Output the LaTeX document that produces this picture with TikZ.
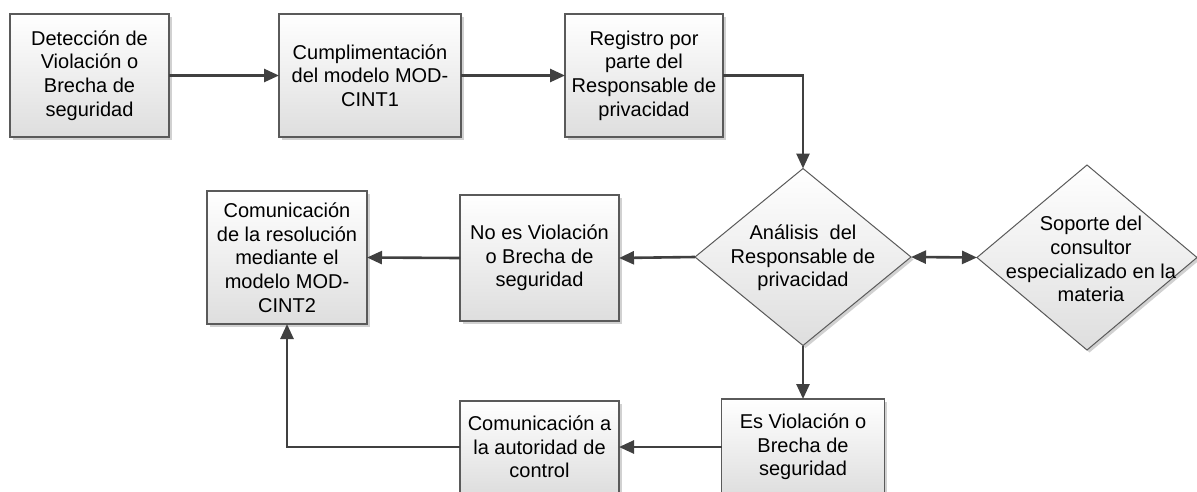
\documentclass[tikz,border=0pt]{standalone}
\usepackage{fontspec}
\setmainfont{Liberation Sans}
\usetikzlibrary{shapes.geometric,arrows.meta,shadows}
\definecolor{linec}{HTML}{404040}
\definecolor{borderc}{HTML}{5A5A5A}
\begin{document}
\begin{tikzpicture}[x=1pt,y=-1pt,
  txt/.style={align=center,font=\fontsize{20}{23.7}\selectfont,inner sep=0pt},
  boxn/.style={draw=borderc,line width=1.2pt,top color=white,bottom color=black!13,
     drop shadow={shadow xshift=2.5pt,shadow yshift=-2.5pt,opacity=0.18,fill=black},
     inner sep=0pt,outer sep=0pt,align=center,font=\fontsize{20}{23.7}\selectfont},
  dian/.style={shape=diamond,draw=borderc,line width=1pt,top color=white,bottom color=black!13,
     drop shadow={shadow xshift=2.5pt,shadow yshift=-2.5pt,opacity=0.18,fill=black},
     inner sep=0pt,outer sep=0pt},
  arr/.style={draw=linec,line width=2.6pt,-{Triangle[length=15pt,width=13pt]}},
  darr/.style={draw=linec,line width=2.6pt,{Triangle[length=15pt,width=13pt]}-{Triangle[length=15pt,width=13pt]}}
]
\useasboundingbox (0,0) rectangle (1197,491);
\clip (0,0) rectangle (1197,491);

\node[boxn,minimum width=159pt,minimum height=123pt] (b1) at (89.5,75.5)
  {Detección de\\Violación o\\Brecha de\\seguridad};
\node[boxn,minimum width=182pt,minimum height=123pt] (b2) at (370,75.5)
  {Cumplimentación\\del modelo MOD-\\CINT1};
\node[boxn,minimum width=158pt,minimum height=123pt] (b3) at (644,75.5)
  {Registro por\\parte del\\Responsable de\\privacidad};

\node[dian,minimum width=216pt,minimum height=177pt] (d1) at (803,257) {};
\node[txt] (d1t) at (803,258) {Análisis~ del\\Responsable de\\privacidad};
\node[dian,minimum width=220pt,minimum height=185pt] (d2) at (1087,257.5) {};
\node[txt] (d2t) at (1091,259) {Soporte del\\consultor\\especializado en la\\materia};

\node[boxn,minimum width=159pt,minimum height=126pt] (n) at (539.5,258)
  {No es Violación\\o Brecha de\\seguridad};
\node[boxn,minimum width=160pt,minimum height=133pt] (c) at (287,257.5)
  {Comunicación\\de la resolución\\mediante el\\modelo MOD-\\CINT2};
\node[boxn,minimum width=159pt,minimum height=92pt] (a) at (539.5,447)
  {Comunicación a\\la autoridad de\\control};
\node[boxn,minimum width=163pt,minimum height=96pt] (e) at (803,447)
  {Es Violación o\\Brecha de\\seguridad};

\draw[arr] (b1.east) -- (b2.west);
\draw[arr] (b2.east) -- (b3.west);
\draw[arr] (b3.east) -| (d1.north);
\draw[darr] (d1.east) -- (d2.west);
\draw[arr] (d1.west) -- (n.east);
\draw[arr] (n.west) -- (c.east);
\draw[arr] (d1.south) -- (e.north);
\draw[arr] (e.west) -- (a.east);
\draw[arr] (a.west) -| (c.south);
\end{tikzpicture}
\end{document}
